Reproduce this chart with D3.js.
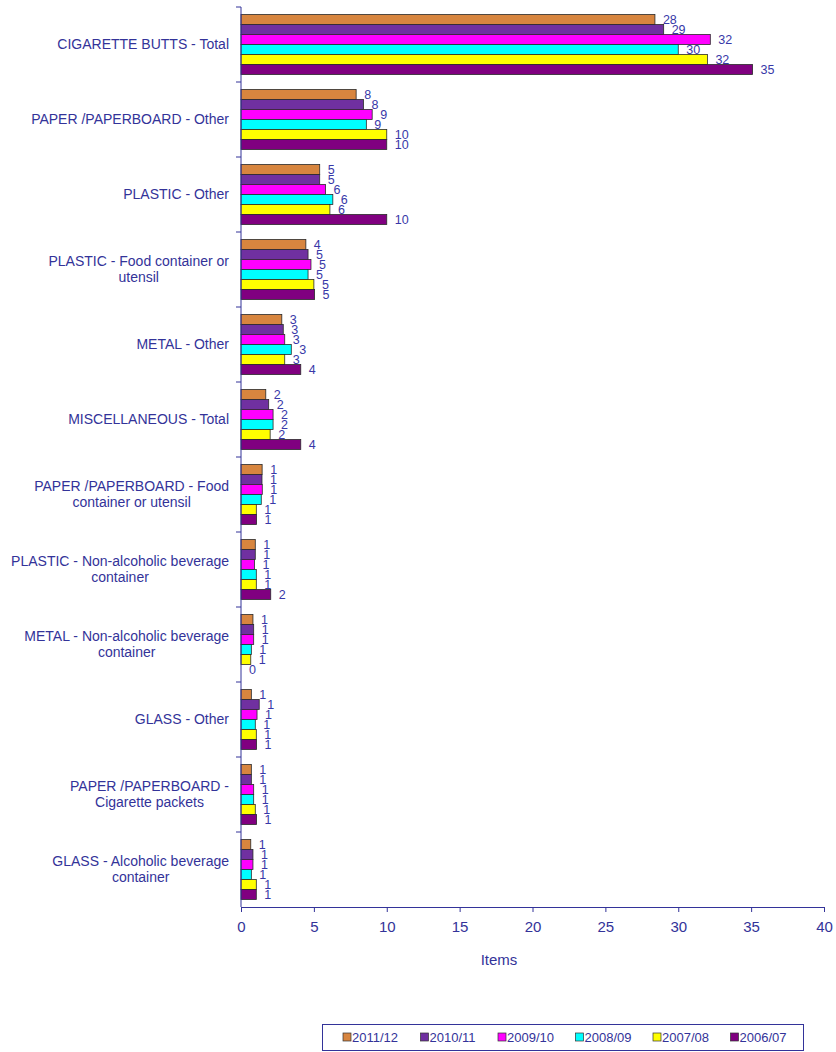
<!DOCTYPE html>
<html>
<head>
<meta charset="utf-8">
<script src="https://cdn.jsdelivr.net/npm/d3@7"></script>
<style>
  body { margin: 0; background: #fff; }
  svg { font-family: "Liberation Sans", Arial, sans-serif; }
</style>
</head>
<body>
<div id="chart"></div>
<script>
const categories = [
  "CIGARETTE BUTTS - Total",
  "PAPER /PAPERBOARD - Other",
  "PLASTIC - Other",
  "PLASTIC - Food container or|utensil",
  "METAL - Other",
  "MISCELLANEOUS - Total",
  "PAPER /PAPERBOARD - Food|container or utensil",
  "PLASTIC - Non-alcoholic beverage|container",
  "METAL - Non-alcoholic beverage|container",
  "GLASS - Other",
  "PAPER /PAPERBOARD -|Cigarette packets",
  "GLASS - Alcoholic beverage|container"
];

const seriesNames = ["2011/12", "2010/11", "2009/10", "2008/09", "2007/08", "2006/07"];
const seriesColors = ["#D7853F", "#7030A0", "#FF00FF", "#00FFFF", "#FFFF00", "#800080"];

// one array per series, same order as categories
const v2011 = [28.4, 7.9, 5.4, 4.45, 2.8, 1.7, 1.45, 0.98, 0.82, 0.71, 0.71, 0.67];
const v2010 = [29.0, 8.4, 5.4, 4.6, 2.9, 1.9, 1.44, 0.98, 0.87, 1.25, 0.71, 0.82];
const v2009 = [32.2, 9.0, 5.8, 4.8, 3.0, 2.2, 1.46, 0.92, 0.87, 1.10, 0.87, 0.82];
const v2008 = [30.0, 8.6, 6.3, 4.6, 3.45, 2.2, 1.39, 1.05, 0.71, 0.98, 0.87, 0.71];
const v2007 = [32.0, 10.0, 6.1, 5.0, 3.0, 2.0, 1.05, 1.05, 0.67, 1.05, 0.98, 1.05];
const v2006 = [35.1, 10.0, 10.0, 5.05, 4.1, 4.1, 1.07, 2.04, 0.0, 1.07, 1.07, 1.05];
const seriesValues = [v2011, v2010, v2009, v2008, v2007, v2006];

const xTicks = [0, 5, 10, 15, 20, 25, 30, 35, 40];

const W = 836, H = 1052;
const textColor = "#333399";

const svg = d3.select("#chart").append("svg")
  .attr("width", W)
  .attr("height", H);

const x = d3.scaleLinear().domain([0, 40]).range([241, 824]);
const y0 = d3.scaleBand().domain(categories).range([7, 907]).padding(0);
const y1 = d3.scaleBand().domain(seriesNames)
  .range([7.5, y0.bandwidth() - 7.5]).padding(0);

// bars
const groups = svg.append("g").selectAll("g")
  .data(categories)
  .join("g")
  .attr("transform", d => `translate(0,${y0(d)})`);

groups.each(function (cat, ci) {
  const g = d3.select(this);
  seriesNames.forEach((s, si) => {
    const v = seriesValues[si][ci];
    if (v > 0) {
      g.append("rect")
        .attr("x", x(0))
        .attr("y", y1(s))
        .attr("width", x(v) - x(0))
        .attr("height", y1.bandwidth())
        .attr("fill", seriesColors[si])
        .attr("stroke", "#2a2a2a")
        .attr("stroke-width", 0.8);
    }
    g.append("text")
      .attr("x", x(v) + 8)
      .attr("y", y1(s) + y1.bandwidth() / 2)
      .attr("dy", "0.35em")
      .attr("fill", "#3838a8")
      .style("font-size", "12.5px")
      .text(Math.round(v));
  });
});

// left axis
const yAxis = svg.append("g");
yAxis.append("line")
  .attr("x1", x(0)).attr("x2", x(0))
  .attr("y1", 7).attr("y2", 907)
  .attr("stroke", textColor).attr("stroke-width", 1);
yAxis.selectAll("line.tick")
  .data(categories)
  .join("line")
  .attr("class", "tick")
  .attr("x1", x(0) - 5).attr("x2", x(0))
  .attr("y1", d => y0(d)).attr("y2", d => y0(d))
  .attr("stroke", textColor);

// category labels (block right-aligned, lines centred)
categories.forEach(cat => {
  const lines = cat.split("|");
  const t = svg.append("text")
    .attr("fill", textColor)
    .style("font-size", "14px")
    .attr("text-anchor", "middle");
  const cy = y0(cat) + y0.bandwidth() / 2;
  const lh = 16;
  lines.forEach((l, i) => {
    t.append("tspan")
      .attr("y", cy + (i - (lines.length - 1) / 2) * lh)
      .attr("dy", "0.35em")
      .text(l);
  });
  const wMax = d3.max(t.selectAll("tspan").nodes(), n => n.getComputedTextLength());
  t.selectAll("tspan").attr("x", 229 - wMax / 2);
});

// bottom axis
const xAxis = svg.append("g")
  .attr("transform", "translate(0,907)")
  .call(d3.axisBottom(x).tickValues(xTicks).tickSize(5).tickSizeOuter(0));
xAxis.select(".domain").attr("stroke", textColor);
xAxis.selectAll(".tick line").attr("stroke", textColor);
xAxis.selectAll(".tick text")
  .attr("fill", textColor)
  .attr("dy", "1.1em")
  .style("font-size", "15px")
  .style("font-family", "Liberation Sans, Arial, sans-serif");

svg.append("text")
  .attr("x", 499)
  .attr("y", 965)
  .attr("text-anchor", "middle")
  .attr("fill", textColor)
  .style("font-size", "15px")
  .text("Items");

// legend
const legend = svg.append("g");
legend.append("rect")
  .attr("x", 322.5).attr("y", 1024.5)
  .attr("width", 481).attr("height", 26)
  .attr("fill", "none")
  .attr("stroke", textColor);
seriesNames.forEach((s, i) => {
  const lx = 343 + i * 77.5;
  legend.append("rect")
    .attr("x", lx).attr("y", 1033)
    .attr("width", 8).attr("height", 8)
    .attr("fill", seriesColors[i])
    .attr("stroke", "#333").attr("stroke-width", 0.7);
  legend.append("text")
    .attr("x", lx + 9).attr("y", 1037.5)
    .attr("dy", "0.35em")
    .attr("fill", textColor)
    .style("font-size", "13px")
    .text(s);
});
</script>
</body>
</html>
